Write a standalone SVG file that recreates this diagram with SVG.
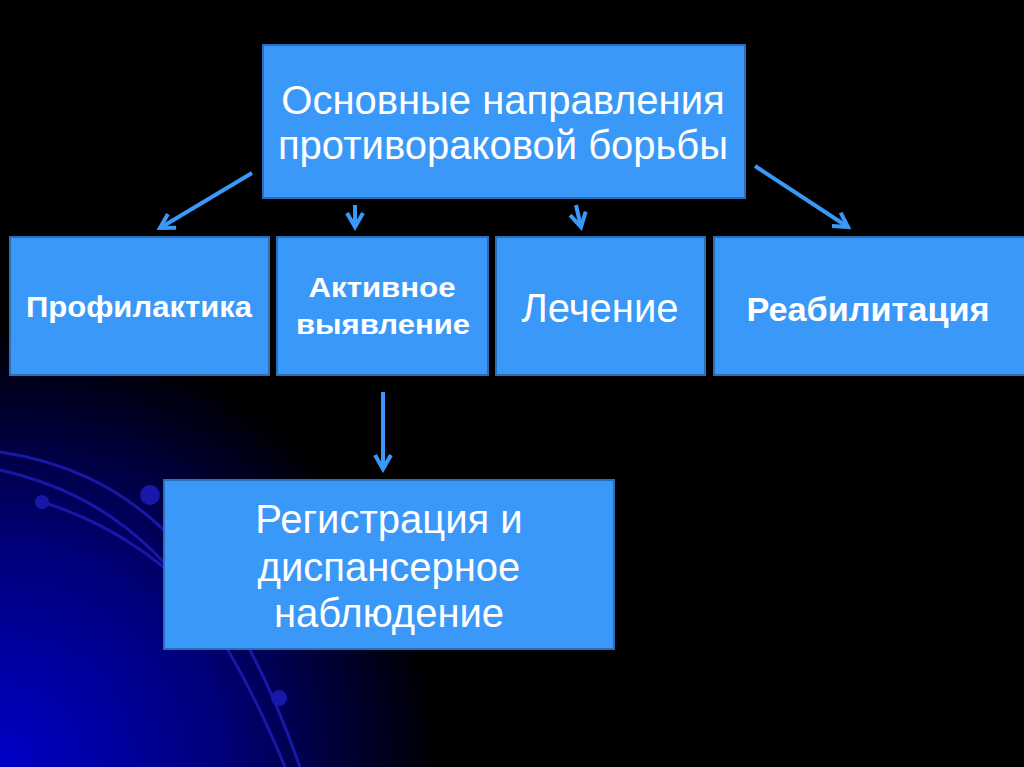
<svg xmlns="http://www.w3.org/2000/svg" width="1024" height="767" viewBox="0 0 1024 767">
<defs>
<radialGradient id="glow" cx="0" cy="767" r="440" gradientUnits="userSpaceOnUse">
<stop offset="0" stop-color="#0000c8"/>
<stop offset="0.5" stop-color="#00007a"/>
<stop offset="1" stop-color="#000000"/>
</radialGradient>
<marker id="ah" viewBox="0 0 10 10" refX="8" refY="5" markerWidth="5" markerHeight="5" orient="auto" markerUnits="strokeWidth">
<path d="M1,1 L8,5 L1,9" fill="none" stroke="#3a99f8" stroke-width="2"/>
</marker>
<style>
.box{fill:#3a99f8;stroke:#2a6fb5;stroke-width:2}
.t{fill:#ffffff;font-family:"Liberation Sans",Arial,sans-serif;text-anchor:middle}
.big{font-size:40px}
.bold{font-weight:bold}
.con{stroke:#3a99f8;stroke-width:4;fill:none;marker-end:url(#ah)}
.deco{stroke:#1818a8;stroke-width:3;fill:none}
.dot{fill:#1818a8}
</style>
</defs>
<rect width="1024" height="767" fill="#000"/>
<rect width="1024" height="767" fill="url(#glow)"/>
<g id="decor">
<path class="deco" d="M0,452 C120,470 220,540 300,767"/>
<path class="deco" d="M0,470 C110,495 200,560 285,767"/>
<path class="deco" d="M42,502 C100,520 150,550 200,600"/>
<circle class="dot" cx="150" cy="495" r="10"/>
<circle class="dot" cx="42" cy="502" r="7"/>
<circle class="dot" cx="279" cy="698" r="8"/>
</g>
<g id="connectors">
<line class="con" x1="252" y1="173" x2="160" y2="228"/>
<line class="con" x1="355" y1="205" x2="355" y2="227"/>
<line class="con" x1="576" y1="205" x2="581" y2="227"/>
<line class="con" x1="755" y1="166" x2="848" y2="227"/>
<line class="con" x1="383" y1="392" x2="383" y2="469"/>
</g>
<g id="top">
<rect class="box" x="263" y="45" width="482" height="153"/>
<text class="t big" x="503" y="114">Основные направления</text>
<text class="t big" x="503" y="159">противораковой борьбы</text>
</g>
<g id="prof">
<rect class="box" x="10" y="237" width="259" height="138"/>
<text class="t bold" x="139" y="317" font-size="29" textLength="226" lengthAdjust="spacingAndGlyphs">Профилактика</text>
</g>
<g id="active">
<rect class="box" x="277" y="237" width="211" height="138"/>
<text class="t bold" x="382" y="297" font-size="28" textLength="147" lengthAdjust="spacingAndGlyphs">Активное</text>
<text class="t bold" x="383" y="334" font-size="28" textLength="174" lengthAdjust="spacingAndGlyphs">выявление</text>
</g>
<g id="treat">
<rect class="box" x="496" y="237" width="209" height="138"/>
<text class="t big" x="600" y="322">Лечение</text>
</g>
<g id="rehab">
<rect class="box" x="714" y="237" width="320" height="138"/>
<text class="t bold" x="868" y="321" font-size="34" textLength="243" lengthAdjust="spacingAndGlyphs">Реабилитация</text>
</g>
<g id="reg">
<rect class="box" x="164" y="480" width="450" height="169"/>
<text class="t big" x="389" y="533">Регистрация и</text>
<text class="t big" x="389" y="581">диспансерное</text>
<text class="t big" x="389" y="627">наблюдение</text>
</g>
</svg>
